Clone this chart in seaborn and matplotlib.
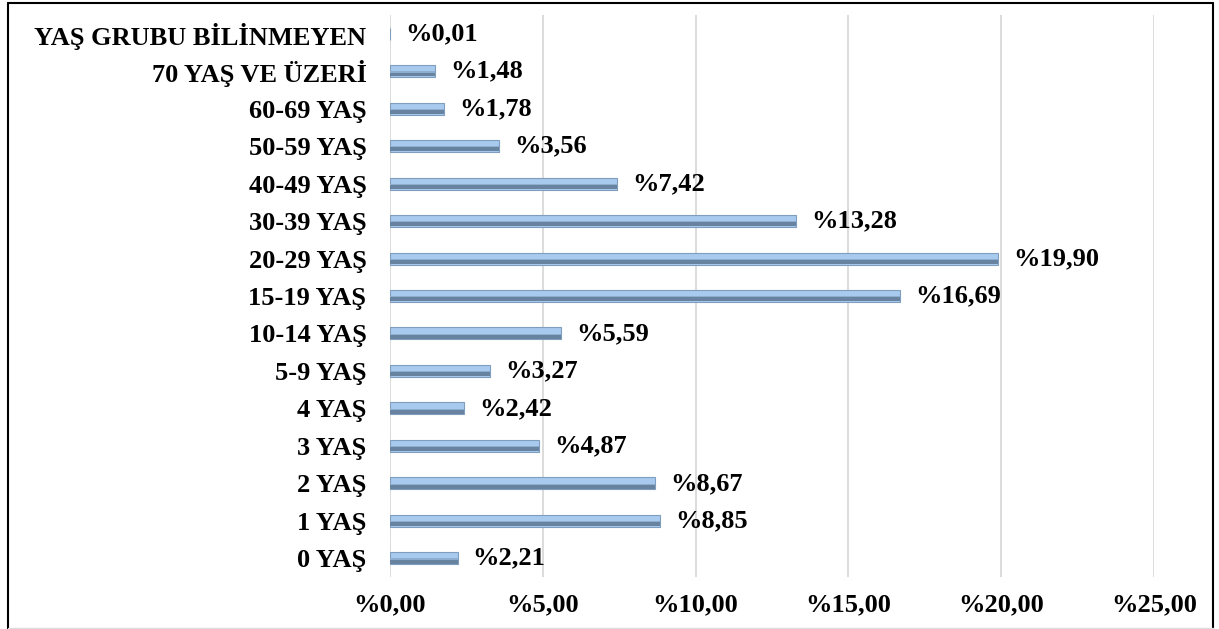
import matplotlib
matplotlib.use("Agg")
import matplotlib.pyplot as plt
import seaborn as sns
import pandas as pd
from matplotlib.lines import Line2D

categories = ["YAŞ GRUBU BİLİNMEYEN", "70 YAŞ VE ÜZERİ", "60-69 YAŞ", "50-59 YAŞ",
              "40-49 YAŞ", "30-39 YAŞ", "20-29 YAŞ", "15-19 YAŞ", "10-14 YAŞ",
              "5-9 YAŞ", "4 YAŞ", "3 YAŞ", "2 YAŞ", "1 YAŞ", "0 YAŞ"]
values = [0.01, 1.48, 1.78, 3.56, 7.42, 13.28, 19.90, 16.69, 5.59,
          3.27, 2.42, 4.87, 8.67, 8.85, 2.21]
xticks = [0, 5, 10, 15, 20, 25]

df = pd.DataFrame({"cat": categories, "val": values})

sns.set_theme(style="white")
plt.rcParams["font.family"] = ["Liberation Serif", "DejaVu Serif"]
plt.rcParams["text.color"] = "black"

fig = plt.figure(figsize=(12.19, 6.29), dpi=100)
ax = fig.add_axes([390/1219, 1-577/629, (1154-390)/1219, (577-15)/629])

# main bar (light blue)
sns.barplot(data=df, x="val", y="cat", orient="h", color="#a8caef",
            saturation=1, width=0.32, edgecolor="#7f9dbd", linewidth=0.8, ax=ax)
# darker lower shading to mimic bevel
for i, v in enumerate(values):
    ax.barh(i + 0.085, v, height=0.11, color="#67839f", linewidth=0, zorder=3)
    ax.barh(i + 0.02, v, height=0.03, color="#8eaed0", linewidth=0, zorder=3)

ax.set_xlim(0, 25)
ax.set_ylim(len(categories) - 0.5, -0.5)
ax.set_xticks(xticks)
ax.set_xticklabels([f"%{t:.2f}".replace(".", ",") for t in xticks],
                   fontsize=19, fontweight="bold", color="black")
ax.set_yticklabels(categories, fontsize=19, fontweight="bold", color="black")
ax.tick_params(axis="y", pad=17, length=0)
ax.tick_params(axis="x", pad=12, length=0)
ax.set_xlabel("")
ax.set_ylabel("")
ax.grid(axis="x", color="#d9d9d9", linewidth=1.3)
ax.set_axisbelow(True)
for s in ax.spines.values():
    s.set_visible(False)

for i, v in enumerate(values):
    ax.annotate(f"%{v:.2f}".replace(".", ","), xy=(v, i), xytext=(15, 0),
                textcoords="offset pixels", va="center", ha="left",
                fontsize=19, fontweight="bold", color="black")

# outer frame
x0, x1, y1 = 8/1219, 1213/1219, 1-3/629
fig.add_artist(Line2D([x0, x0], [0, y1], color="black", lw=1.5, transform=fig.transFigure))
fig.add_artist(Line2D([x0, x1], [y1, y1], color="black", lw=1.5, transform=fig.transFigure))
fig.add_artist(Line2D([x1, x1], [0, y1], color="black", lw=1.5, transform=fig.transFigure))
fig.add_artist(Line2D([x0, x1], [0.001, 0.001], color="#dddddd", lw=1, transform=fig.transFigure))

fig.savefig("out.png", dpi=100)
